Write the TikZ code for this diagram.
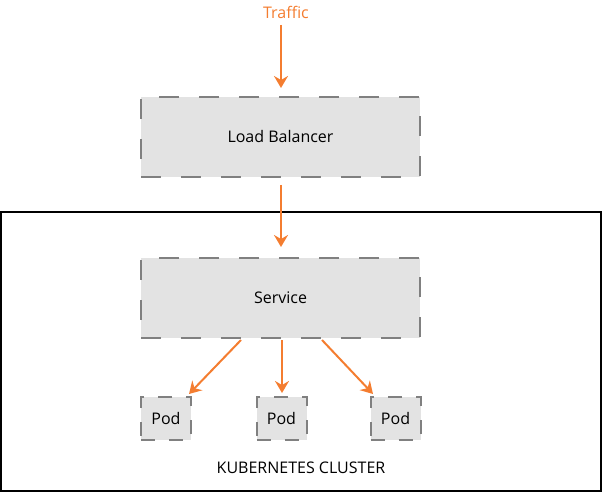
\documentclass[tikz,border=0pt]{standalone}
\usepackage{fontspec}
\setmainfont{Open Sans}
\usetikzlibrary{arrows.meta}
\definecolor{traffic}{RGB}{244,125,48}
\definecolor{boxfill}{RGB}{227,227,227}
\definecolor{boxline}{RGB}{128,128,128}
\tikzset{
  txt/.style={font=\fontsize{16}{18}\selectfont},
  dbox/.style={draw=boxline, fill=boxfill, line width=2pt, dash pattern=on 20pt off 20pt, inner sep=0pt, txt},
  podbox/.style={dbox, dash pattern=on 14pt off 14pt, minimum width=50pt, minimum height=43pt},
  flow/.style={draw=traffic, line width=2pt, -{Stealth[length=12pt,width=14pt,inset=4pt]}}
}
\begin{document}
\begin{tikzpicture}[x=1pt,y=-1pt]
\useasboundingbox (0,0) rectangle (604,494);
\draw[line width=2pt] (1,212) rectangle (601,491);
\node[txt, text=traffic] (traffic) at (286,12) {Traffic};
\node[dbox, minimum width=279pt, minimum height=80pt] (lb) at (280.5,137) {Load Balancer};
\node[dbox, minimum width=279pt, minimum height=80pt] (svc) at (280.5,298) {Service};
\node[podbox] (pod1) at (166,418.5) {Pod};
\node[podbox] (pod2) at (281.5,418.5) {Pod};
\node[podbox] (pod3) at (395.5,418.5) {Pod};
\node[txt] (cluster) at (301,468) {KUBERNETES CLUSTER};
\coordinate (t0) at (281,25);
\coordinate (t1) at (281,88);
\coordinate (l0) at (281,185);
\coordinate (l1) at (281,247);
\coordinate (s1) at (241,340);
\coordinate (s2) at (282,340);
\coordinate (s3) at (322,340);
\coordinate (p1) at (189,394);
\coordinate (p2) at (282,393);
\coordinate (p3) at (373,394);
\draw[flow] (t0) -- (t1);
\draw[flow] (l0) -- (l1);
\draw[flow] (s1) -- (p1);
\draw[flow] (s2) -- (p2);
\draw[flow] (s3) -- (p3);
\end{tikzpicture}
\end{document}
